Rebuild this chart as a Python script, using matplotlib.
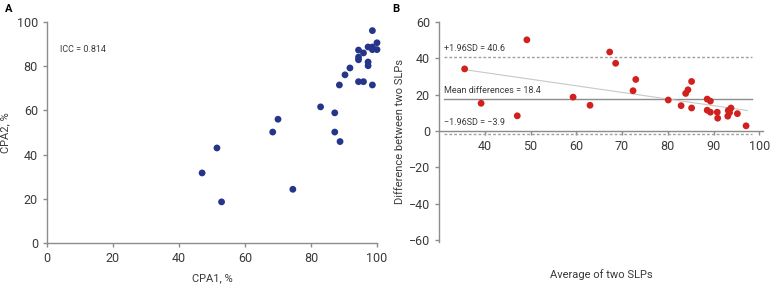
import numpy as np
import matplotlib.pyplot as plt

plt.rcParams['font.family'] = ['Roboto', 'DejaVu Sans']

# Panel A: CPA1 vs CPA2
cpa1 = [47.0, 51.5, 52.9, 68.4, 70.0, 74.5, 82.9, 87.2, 87.2, 88.8, 88.6, 90.3,
        91.8, 94.4, 94.4, 94.4, 95.9, 94.4, 95.9, 97.3, 97.3, 97.3, 98.6, 98.6,
        98.6, 98.6, 100.0, 100.0]
cpa2 = [31.7, 43.0, 18.6, 50.2, 56.0, 24.3, 61.6, 58.9, 50.2, 45.9, 71.5, 76.1,
        79.2, 87.3, 84.1, 82.9, 86.0, 73.0, 73.0, 81.9, 80.2, 88.7, 96.1, 88.7,
        87.5, 71.5, 90.6, 87.5]

# Panel B: Bland-Altman
avg = [35.6, 39.2, 47.1, 49.2, 59.3, 63.0, 67.3, 68.6, 72.4, 73.0, 80.1, 82.9,
       83.9, 84.4, 85.2, 85.2, 88.6, 89.3, 88.6, 89.3, 90.8, 90.9, 93.1, 93.2,
       93.8, 93.5, 95.2, 97.1]
diff = [34.2, 15.3, 8.4, 50.2, 18.7, 14.2, 43.5, 37.3, 22.2, 28.4, 17.1, 14.0,
        20.7, 22.7, 27.3, 12.7, 17.6, 16.5, 11.5, 10.4, 10.4, 7.1, 8.2, 11.3,
        12.7, 10.2, 9.6, 2.9]
upper_loa, mean_diff, lower_loa = 40.5, 17.6, -1.8
trend_x = [36.4, 97.4]
trend_y = [33.5, 11.3]

blue = '#25358a'
red = '#d0211f'
spine_c = '#8c8c8c'
txt_c = '#3a3a3a'

fig = plt.figure(figsize=(7.71, 2.86), dpi=100)
W, H = 771, 286
axA = fig.add_axes([47 / W, 1 - 243 / H, 330 / W, 221 / H])
axB = fig.add_axes([439 / W, 1 - 242 / H, 324 / W, 220 / H])

# ---- A
axA.scatter(cpa1, cpa2, s=24, color=blue, edgecolors='none', zorder=3, clip_on=False)
axA.set_xlim(0, 100)
axA.set_ylim(0, 100)
axA.set_xticks(range(0, 101, 20))
axA.set_yticks(range(0, 101, 20))
for s in ['top', 'right']:
    axA.spines[s].set_visible(False)
for s in ['left', 'bottom']:
    axA.spines[s].set_color(spine_c)
    axA.spines[s].set_linewidth(1.0)
axA.tick_params(colors=spine_c, labelcolor=txt_c, labelsize=9, length=3, width=1)
axA.set_xlabel('CPA1, %', fontsize=8, color=txt_c, labelpad=6)
axA.set_ylabel('CPA2, %', fontsize=8, color=txt_c, labelpad=5)
axA.text(4, 87.5, 'ICC = 0.814', fontsize=6.5, color=txt_c, va='center')

# ---- B
axB.scatter(avg, diff, s=24, color=red, edgecolors='none', zorder=3)
axB.plot([31, 98.5], [upper_loa] * 2, ls=(0, (2, 1.5)), color='#a0a0a0', lw=1)
axB.plot([31, 98.5], [lower_loa] * 2, ls=(0, (2, 1.5)), color='#a0a0a0', lw=1)
axB.plot([31, 98.5], [mean_diff] * 2, color='#8c8c8c', lw=1)
axB.plot(trend_x, trend_y, color='#c8c8c8', lw=0.8)
axB.set_xlim(30, 100.8)
axB.set_ylim(-61, 60)
axB.set_xticks(range(40, 101, 10))
axB.set_yticks(range(-60, 61, 20))
axB.set_yticklabels(['\u221260', '\u221240', '\u221220', '0', '20', '40', '60'])
for s in ['top', 'right']:
    axB.spines[s].set_visible(False)
axB.spines['bottom'].set_position(('data', 0))
for s in ['left', 'bottom']:
    axB.spines[s].set_color(spine_c)
    axB.spines[s].set_linewidth(1.0)
axB.tick_params(colors=spine_c, labelcolor=txt_c, labelsize=9, length=3, width=1)
axB.set_ylabel('Difference between two SLPs', fontsize=8, color=txt_c, labelpad=3)
axB.text(0.5, -0.15, 'Average of two SLPs', fontsize=8, color=txt_c,
         ha='center', va='center', transform=axB.transAxes)
axB.text(31, 45.3, '+1.96SD = 40.6', fontsize=6.5, color=txt_c, va='center')
axB.text(31, 22.5, 'Mean differences = 18.4', fontsize=6.5, color=txt_c, va='center')
axB.text(31, 4.5, '\u22121.96SD = \u22123.9', fontsize=6.5, color=txt_c, va='center')

fig.text(5 / W, 1 - 9 / H, 'A', fontsize=8, fontweight='bold', va='center')
fig.text(392 / W, 1 - 9 / H, 'B', fontsize=8, fontweight='bold', va='center')

fig.savefig('out.png', dpi=100)
